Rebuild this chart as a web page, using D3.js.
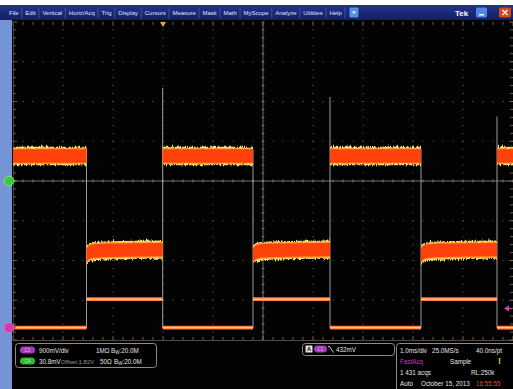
<!DOCTYPE html>
<html><head><meta charset="utf-8">
<script src="https://cdn.jsdelivr.net/npm/d3@7"></script>
<style>
html,body{margin:0;padding:0;background:#fff;}
svg{display:block;}
text{font-family:"Liberation Sans",Arial,sans-serif;}
</style></head><body>
<svg id="scope" width="513" height="389"></svg>
<script>
// ---- menu ----
const menuItems = ["File","Edit","Vertical","Horiz/Acq","Trig","Display","Cursors","Measure","Mask","Math","MyScope","Analyze","Utilities","Help"];

// ---- acquisition settings ----
const timeDivs = 10, voltDivs = 8, msPerDiv = 1.0;
const c1VoltsPerDiv = 0.9, c1Position = -3.69;          // C1: 900 mV/div, ground marker position (div)
const c4VoltsPerDiv = 0.0308, c4Offset = 1.82;          // C4: 30.8 mV/div, offset 1.82 V
const triggerTime = -2.0, triggerLevel = 0.432;         // ms, V (C1 falling edge)

// ---- waveform data (time in ms, voltage in V) ----
const edgeTimes  = [-3.53, -2.006, -0.2, 1.34, 3.16, 4.68];   // C4 transitions, first one falling
const c4High = 1.8394, c4Low = 1.7665;
const lowSettleFrac = [0, 0.03, 0.1, 0.3, 1];                  // fraction of a low segment
const lowSettleV    = [1.7626, 1.7645, 1.7657, 1.7663, 1.7668];
const c4NoiseOuter = 0.0071, c4NoiseMid = 0.0062, c4NoiseCore = 0.0052;
const spikeTops = [null, 1.8921, null, 1.8851, null, 1.8700];  // overshoot at rising edges
const c1High = 0.645, c1Low = 0.0;

// ---- readout ----
const c1Readout = {label:"C1", scale:"900mV/div", imp:"1MΩ", bw:":20.0M"};
const c4Readout = {label:"C4", scale:"30.8mV", offset:"Offset:1.82V", imp:"50Ω", bw:":20.0M"};
const trigReadout = "432mV";
const horizReadout = ["1.0ms/div","25.0MS/s","40.0ns/pt"];
const acqReadout = ["FastAcq","Sample","1 431 acqs","RL:250k","Auto","October 15, 2013","16:55:55"];

const svg = d3.select("#scope");
const W = 513, H = 389;
const plot = {left: 13, right: 513, top: 22, bottom: 340};

const x = d3.scaleLinear().domain([-timeDivs/2*msPerDiv, timeDivs/2*msPerDiv]).range([plot.left, plot.right]);
const yDiv = d3.scaleLinear().domain([-voltDivs/2, voltDivs/2]).range([plot.bottom, plot.top]);
const yC4 = d3.scaleLinear()
  .domain([c4Offset - voltDivs/2*c4VoltsPerDiv, c4Offset + voltDivs/2*c4VoltsPerDiv])
  .range([plot.bottom, plot.top]);
const yC1 = d3.scaleLinear()
  .domain([(-voltDivs/2 - c1Position)*c1VoltsPerDiv, (voltDivs/2 - c1Position)*c1VoltsPerDiv])
  .range([plot.bottom, plot.top]);

// ---- defs: fuzzy trace texture, clip ----
const defs = svg.append("defs");
function fuzzFilter(id, scale, freq, seed){
  const f = defs.append("filter").attr("id", id)
    .attr("x", "-2%").attr("y", "-80%").attr("width", "104%").attr("height", "260%");
  f.append("feTurbulence").attr("type","fractalNoise").attr("baseFrequency", freq)
    .attr("numOctaves", 2).attr("seed", seed).attr("result","n");
  f.append("feColorMatrix").attr("in","n").attr("type","matrix")
    .attr("values","0 0 0 0 0.5  0 1 0 0 0  0 0 1 0 0  0 0 0 0 1").attr("result","m");
  f.append("feDisplacementMap").attr("in","SourceGraphic").attr("in2","m")
    .attr("scale", scale).attr("xChannelSelector","R").attr("yChannelSelector","G");
}
fuzzFilter("fuzzOuter", 6, "1.4 0.12", 4);
fuzzFilter("fuzzMid", 3.5, "1.2 0.15", 9);
defs.append("clipPath").attr("id","plotClip").append("rect")
  .attr("x", plot.left).attr("y", plot.top).attr("width", plot.right-plot.left).attr("height", plot.bottom-plot.top);

// ---- background ----
svg.append("rect").attr("width", W).attr("height", H).attr("fill", "#fff");
svg.append("rect").attr("x", 0).attr("y", 20).attr("width", W).attr("height", H-20).attr("fill", "#030303");
svg.append("rect").attr("x", 0).attr("y", 20).attr("width", 12).attr("height", H-20).attr("fill", "#7494d6");

// ---- menu bar ----
const mg = defs.append("linearGradient").attr("id","menuGrad").attr("x1",0).attr("y1",0).attr("x2",0).attr("y2",1);
mg.append("stop").attr("offset",0).attr("stop-color","#24348a");
mg.append("stop").attr("offset",1).attr("stop-color","#121f62");
svg.append("rect").attr("x",0).attr("y",5).attr("width",W).attr("height",15).attr("fill","url(#menuGrad)");
const menu = svg.append("g");
let mx = 9;
menuItems.forEach((m, i) => {
  const t = menu.append("text").attr("x", mx).attr("y", 15.2).attr("font-size", 6)
    .attr("fill", "#dfe5ff").text(m);
  const w = t.node().getComputedTextLength();
  const sep = mx + w + 3.2;
  menu.append("line").attr("x1", sep).attr("x2", sep).attr("y1", 7.5).attr("y2", 18.5)
    .attr("stroke", "#4a5aa8").attr("stroke-width", 0.8);
  mx = sep + 3.5;
});
// dropdown button
svg.append("rect").attr("x", mx+1).attr("y", 7.5).attr("width", 9).attr("height", 10).attr("rx",1).attr("fill", "#5b8fe6");
svg.append("path").attr("d", `M${mx+3.5},11.5 h4 l-2,2.5 z`).attr("fill", "#fff");
svg.append("text").attr("x", 455).attr("y", 15.5).attr("font-size", 8).attr("font-weight", "bold")
  .attr("fill", "#fff").text("Tek");
svg.append("rect").attr("x", 476).attr("y", 7.5).attr("width", 11).attr("height", 10).attr("rx",1.5).attr("fill", "#4f86e8");
svg.append("rect").attr("x", 479).attr("y", 14).attr("width", 5).attr("height", 1.5).attr("fill", "#fff");
svg.append("rect").attr("x", 499).attr("y", 7.5).attr("width", 12).attr("height", 10).attr("rx",1.5).attr("fill", "#d8481e");
svg.append("path").attr("d", "M502.5,10 l5,5 M507.5,10 l-5,5").attr("stroke", "#fff").attr("stroke-width", 1.3);

// ---- graticule ----
const grid = svg.append("g");
const xDivTicks = d3.range(-timeDivs/2, timeDivs/2 + 1).map(d => d*msPerDiv);
const yDivTicks = d3.range(-voltDivs/2, voltDivs/2 + 1);
const xMinor = d3.range(-timeDivs/2*5, timeDivs/2*5 + 1).map(d => d/5*msPerDiv);
const yMinor = d3.range(-voltDivs/2*5, voltDivs/2*5 + 1).map(d => d/5);

// dotted division lines
yDivTicks.filter(d => d !== 0 && Math.abs(d) !== voltDivs/2).forEach(d => {
  grid.selectAll(null).data(xMinor).join("rect")
    .attr("x", t => x(t) - 0.5).attr("y", yDiv(d) - 0.5).attr("width", 1).attr("height", 1)
    .attr("fill", "#6a6a6a");
});
xDivTicks.filter(d => d !== 0 && Math.abs(d) !== timeDivs/2*msPerDiv).forEach(d => {
  grid.selectAll(null).data(yMinor).join("rect")
    .attr("x", x(d) - 0.5).attr("y", v => yDiv(v) - 0.5).attr("width", 1).attr("height", 1)
    .attr("fill", "#6a6a6a");
});
// center crosshair with minor ticks
grid.append("line").attr("x1", plot.left).attr("x2", plot.right).attr("y1", yDiv(0)).attr("y2", yDiv(0))
  .attr("stroke", "#8a8a8a").attr("stroke-width", 0.8);
grid.append("line").attr("x1", x(0)).attr("x2", x(0)).attr("y1", plot.top).attr("y2", plot.bottom)
  .attr("stroke", "#8a8a8a").attr("stroke-width", 0.8);
grid.selectAll(null).data(xMinor).join("line")
  .attr("x1", t => x(t)).attr("x2", t => x(t)).attr("y1", yDiv(0) - 1.5).attr("y2", yDiv(0) + 1.5)
  .attr("stroke", "#8a8a8a").attr("stroke-width", 0.8);
grid.selectAll(null).data(yMinor).join("line")
  .attr("x1", x(0) - 1.5).attr("x2", x(0) + 1.5).attr("y1", v => yDiv(v)).attr("y2", v => yDiv(v))
  .attr("stroke", "#8a8a8a").attr("stroke-width", 0.8);

// rulers on the plot border
const rulerColor = "#8a7564";
grid.selectAll(null).data(xMinor).join("line")
  .attr("x1", t => x(t)).attr("x2", t => x(t)).attr("y1", plot.top).attr("y2", (t,i) => plot.top + (i%5===0 ? 4 : 3))
  .attr("stroke", rulerColor).attr("stroke-width", 0.8);
grid.selectAll(null).data(xMinor).join("line")
  .attr("x1", t => x(t)).attr("x2", t => x(t)).attr("y1", plot.bottom).attr("y2", (t,i) => plot.bottom - (i%5===0 ? 4 : 3))
  .attr("stroke", rulerColor).attr("stroke-width", 0.8);
grid.append("line").attr("x1", plot.left).attr("x2", plot.right).attr("y1", plot.bottom + 0.5).attr("y2", plot.bottom + 0.5)
  .attr("stroke", "#5a4636").attr("stroke-width", 1);
grid.append("line").attr("x1", plot.left + 0.5).attr("x2", plot.left + 0.5).attr("y1", plot.top).attr("y2", plot.bottom)
  .attr("stroke", "#3e3a38").attr("stroke-width", 1);
grid.selectAll(null).data(yMinor).join("line")
  .attr("x1", plot.left).attr("x2", (v,i) => plot.left + (i%5===0 ? 4 : 3)).attr("y1", v => yDiv(v)).attr("y2", v => yDiv(v))
  .attr("stroke", rulerColor).attr("stroke-width", 0.8);
grid.selectAll(null).data(yMinor).join("line")
  .attr("x1", plot.right).attr("x2", (v,i) => plot.right - (i%5===0 ? 4 : 3)).attr("y1", v => yDiv(v)).attr("y2", v => yDiv(v))
  .attr("stroke", rulerColor).attr("stroke-width", 0.8);

// ---- waveforms ----
const traces = svg.append("g").attr("clip-path", "url(#plotClip)");
const bounds = [x.domain()[0], ...edgeTimes, x.domain()[1]];
const segments = d3.range(bounds.length - 1).map(i => ({t0: bounds[i], t1: bounds[i+1], high: i % 2 === 0}));

function c4Points(s){
  if (s.high) return [{t: s.t0, v: c4High}, {t: s.t1, v: c4High}];
  return lowSettleFrac.map((f, k) => ({t: s.t0 + f*(s.t1 - s.t0), v: lowSettleV[k]}));
}
function band(half){
  return d3.area().x(d => x(d.t)).y0(d => yC4(d.v - half)).y1(d => yC4(d.v + half)).curve(d3.curveMonotoneX);
}

// edge lines (C4 transitions continuing into the C1 transitions)
edgeTimes.forEach((t, i) => {
  const top = spikeTops[i] !== null ? yC4(spikeTops[i]) : yC4(c4High + c4NoiseCore);
  traces.append("line").attr("x1", x(t)).attr("x2", x(t)).attr("y1", top).attr("y2", yC1(c1Low))
    .attr("stroke", "#c4c4c4").attr("stroke-width", 1).attr("opacity", 0.8);
});

segments.forEach(s => {
  const pts = c4Points(s);
  traces.append("path").datum(pts).attr("d", band(c4NoiseOuter)).attr("fill", "#f2e27c").attr("filter", "url(#fuzzOuter)");
  traces.append("path").datum(pts).attr("d", band(c4NoiseMid)).attr("fill", "#ff9a26").attr("filter", "url(#fuzzMid)");
  traces.append("path").datum(pts).attr("d", band(c4NoiseCore)).attr("fill", "#ff420c");
});

// C1 logic-level trace
segments.forEach(s => {
  const v = s.high ? c1Low : c1High;
  traces.append("line").attr("x1", x(s.t0)).attr("x2", x(s.t1)).attr("y1", yC1(v)).attr("y2", yC1(v))
    .attr("stroke", "#ff7e3a").attr("stroke-width", 3.8);
  traces.append("line").attr("x1", x(s.t0)).attr("x2", x(s.t1)).attr("y1", yC1(v)).attr("y2", yC1(v))
    .attr("stroke", "#ffd6b8").attr("stroke-width", 1);
});

// ---- markers ----
// trigger position (top) and trigger level (right)
svg.append("path").attr("d", `M${x(triggerTime)-3},22 h6 l-3,5 z`).attr("fill", "#e8a040");
svg.append("path").attr("d", `M${plot.right-9},${yC1(triggerLevel)} l5,-3 v6 z`).attr("fill", "#d040c0");
svg.append("line").attr("x1", plot.right-6).attr("x2", plot.right-1).attr("y1", yC1(triggerLevel)).attr("y2", yC1(triggerLevel))
  .attr("stroke", "#d040c0").attr("stroke-width", 1);
// channel ground / offset markers
svg.append("circle").attr("cx", 9).attr("cy", yDiv(0)).attr("r", 4.8).attr("fill", "#38c83a").attr("stroke", "#8af08a").attr("stroke-width", 0.8);
svg.append("path").attr("d", `M13,${yDiv(0)-2} l3,2 l-3,2 z`).attr("fill", "#38c83a");
svg.append("circle").attr("cx", 9).attr("cy", yC1(0)).attr("r", 5).attr("fill", "#d13aa8").attr("stroke", "#f07ad0").attr("stroke-width", 0.8);
svg.append("path").attr("d", `M13.5,${yC1(0)-2} l3,2 l-3,2 z`).attr("fill", "#d13aa8");

// ---- readout panel ----
const panel = svg.append("g").attr("font-size", 6.3).attr("fill", "#e4e4e4");
function box(x0, y0, w, h){
  panel.append("rect").attr("x", x0+0.5).attr("y", y0+0.5).attr("width", w).attr("height", h).attr("rx", 3)
    .attr("fill", "#000").attr("stroke", "#8c8c8c").attr("stroke-width", 1);
}
function pill(x0, y0, label, fill, textFill){
  panel.append("rect").attr("x", x0).attr("y", y0).attr("width", 15).attr("height", 7).attr("rx", 3.5).attr("fill", fill);
  panel.append("text").attr("x", x0 + 7.5).attr("y", y0 + 5.3).attr("font-size", 4.5).attr("text-anchor", "middle")
    .attr("fill", textFill).text(label);
}
function bwText(x0, y0, rest){
  const t = panel.append("text").attr("x", x0).attr("y", y0);
  t.append("tspan").text("B");
  t.append("tspan").attr("dy", 1.5).attr("font-size", 4.5).text("W");
  t.append("tspan").attr("dy", -1.5).text(rest);
}
box(15, 343, 141, 24);
pill(20, 346.5, c1Readout.label, "#a53db5", "#e6b0ee");
panel.append("text").attr("x", 39).attr("y", 352.5).text(c1Readout.scale);
panel.append("text").attr("x", 96).attr("y", 352.5).text(c1Readout.imp);
bwText(111, 352.5, c1Readout.bw);
pill(20, 357.5, c4Readout.label, "#33b833", "#b8f0b8");
panel.append("text").attr("x", 39).attr("y", 363.5).text(c4Readout.scale);
panel.append("text").attr("x", 61).attr("y", 363.5).attr("fill", "#9a9a9a").attr("font-size", 6).text(c4Readout.offset);
panel.append("text").attr("x", 100).attr("y", 363.5).text(c4Readout.imp);
bwText(114, 363.5, c4Readout.bw);

box(302, 343, 92, 12);
panel.append("rect").attr("x", 305.5).attr("y", 345.5).attr("width", 7).attr("height", 7).attr("fill", "#e0e0e0");
panel.append("text").attr("x", 309).attr("y", 351.3).attr("font-size", 5.5).attr("font-weight", "bold")
  .attr("text-anchor", "middle").attr("fill", "#000").text("A");
panel.append("rect").attr("x", 314).attr("y", 345.5).attr("width", 13).attr("height", 7).attr("rx", 3.5).attr("fill", "#a53db5");
panel.append("text").attr("x", 320.5).attr("y", 350.8).attr("font-size", 4.5).attr("text-anchor", "middle").attr("fill", "#e6b0ee").text("C1");
panel.append("path").attr("d", "M328,346.5 h1.5 l4,6").attr("stroke", "#e4e4e4").attr("stroke-width", 0.9).attr("fill", "none");
panel.append("text").attr("x", 336).attr("y", 352).text(trigReadout);

box(396, 343, 120, 50);
panel.append("text").attr("x", 400).attr("y", 352.5).text(horizReadout[0]);
panel.append("text").attr("x", 432).attr("y", 352.5).text(horizReadout[1]);
panel.append("text").attr("x", 476).attr("y", 352.5).text(horizReadout[2]);
panel.append("text").attr("x", 400).attr("y", 363.5).attr("fill", "#c23cc4").text(acqReadout[0]);
panel.append("text").attr("x", 450).attr("y", 363.5).text(acqReadout[1]);
panel.append("text").attr("x", 498).attr("y", 364).attr("font-size", 9).attr("font-weight", "bold").attr("fill", "#e8d020").text("!");
panel.append("text").attr("x", 400).attr("y", 374.5).text(acqReadout[2]);
panel.append("text").attr("x", 471).attr("y", 374.5).text(acqReadout[3]);
panel.append("text").attr("x", 400).attr("y", 385.5).text(acqReadout[4]);
panel.append("text").attr("x", 421).attr("y", 385.5).text(acqReadout[5]);
panel.append("text").attr("x", 476).attr("y", 385.5).attr("fill", "#d8552a").text(acqReadout[6]);
</script>
</body></html>
